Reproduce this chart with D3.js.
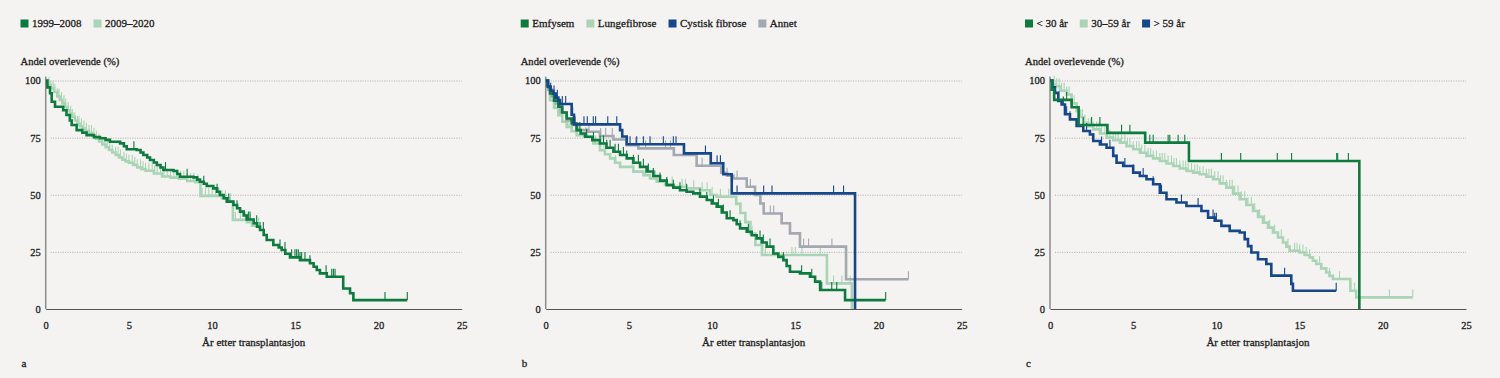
<!DOCTYPE html>
<html><head><meta charset="utf-8">
<script src="https://cdn.jsdelivr.net/npm/d3@7"></script>
<style>
body{margin:0;background:#f4f3f1;}
svg{display:block;}
text{font-family:"Liberation Serif","DejaVu Serif",serif;fill:#1e1e1e;stroke:#1e1e1e;stroke-width:0.3px;}
</style>
</head><body><svg id="chart" width="1500" height="378"></svg>
<script>
// ---------- DATA ----------
const xTicks = [0, 5, 10, 15, 20, 25];
const yTicks = [0, 25, 50, 75, 100];
const yTitle = "Andel overlevende (%)";
const xTitle = "År etter transplantasjon";
const panelLetters = ["a", "b", "c"];

const legendA = ["1999–2008", "2009–2020"];
const legendB = ["Emfysem", "Lungefibrose", "Cystisk fibrose", "Annet"];
const legendC = ["< 30 år", "30–59 år", "> 59 år"];

// Panel a — [years, survival %]
const a_1999_2008 = [[0,100],[0.1,97],[0.26,94.4],[0.36,90.7],[0.56,88.5],[1.05,87],[1.25,84.9],[1.45,82.5],[1.56,80.5],[1.86,78.3],[2.2,77.2],[2.46,76.1],[2.9,75.2],[3.26,74.7],[3.6,74],[3.86,73.2],[4.47,72.5],[4.7,71.2],[4.87,69.9],[5.47,69.6],[5.7,68.5],[5.87,67.4],[6.1,66.3],[6.27,65.2],[6.5,64.1],[6.68,63],[6.9,61.9],[7.07,60.8],[7.68,60.4],[7.9,59.1],[8.07,57.9],[8.88,57.6],[9.1,56.6],[9.27,55.7],[9.5,54.8],[9.68,53.8],[10.07,52.8],[10.3,51.3],[10.47,49.9],[10.7,48.5],[10.88,47],[11.28,45.5],[11.5,44.1],[11.68,42.6],[11.9,40.9],[12.08,39.2],[12.5,37.5],[12.7,36],[12.88,34.6],[13.1,32.4],[13.28,30.2],[13.68,28],[14.0,26.9],[14.18,25.8],[14.4,24.2],[14.68,22.6],[15.28,21.4],[15.88,20],[16.1,18.5],[16.29,17.1],[16.48,15.6],[16.89,14.1],[17.88,9.0],[18.29,6.9],[18.49,3.9],[21.73,3.9]];
const a_1999_2008_cens = [5.3,7.2,8.5,9.5,10.3,11.0,11.5,12.18,12.28,12.68,12.88,13.08,14.08,14.38,14.78,14.98,15.08,15.18,15.28,15.38,15.58,15.88,16.85,17.19,17.29,17.39,17.88,20.39,21.73];
const a_2009_2020 = [[0,100],[0.15,98],[0.3,96.5],[0.5,95],[0.7,93],[0.85,91.5],[1.0,90],[1.15,88.5],[1.3,87],[1.45,85.5],[1.6,84],[1.75,82.5],[1.9,81],[2.05,80],[2.2,79],[2.4,78],[2.6,77],[2.8,75.8],[3.0,74.5],[3.2,73.3],[3.4,72],[3.6,70.8],[3.8,69.6],[4.0,68.5],[4.2,67.4],[4.4,66.3],[4.6,65.3],[4.8,64.6],[5.0,64],[5.25,63],[5.5,62],[5.75,61.2],[6.0,60.5],[6.5,59.3],[7.0,58],[7.5,57.5],[8.0,57],[8.5,56],[9.0,55.5],[9.3,49.5],[10.6,48.5],[11.0,47],[11.25,39],[12.1,38],[12.4,36.5],[12.8,36.5]];
const a_2009_2020_cens = [0.2,0.3,0.45,0.55,0.7,0.8,0.95,1.1,1.2,1.35,1.5,1.6,1.75,1.9,2.0,2.15,2.3,2.45,2.6,2.75,2.9,3.05,3.2,3.4,3.55,3.7,3.85,4.0,4.2,4.35,4.5,4.7,4.85,5.0,5.2,5.35,5.5,5.7,5.85,6.0,6.2,6.4,6.55,6.7,6.9,7.1,7.3,7.5,7.7,7.9,8.1,8.3,8.5,8.7,8.9,9.15,9.4,9.6,9.8,10.0,10.2,10.4,10.6,10.8,11.1,11.4,11.7,12.0,12.3,12.8];

// Panel b
const b_emfysem = [[0,100],[0.1,97.5],[0.26,94.3],[0.5,91.2],[0.76,88.5],[1.0,86],[1.26,83.4],[1.56,81.2],[1.86,78.3],[2.1,76.8],[2.36,75.4],[2.8,73.9],[3.26,72.4],[3.65,70.6],[4.07,68.8],[4.47,67.4],[4.87,65.9],[5.27,64],[5.67,62.2],[6.07,60.2],[6.47,58.2],[6.87,56.2],[7.27,54.2],[7.67,53.1],[8.07,52.0],[8.47,51.3],[8.87,50.6],[9.27,49.2],[9.68,47.7],[9.98,46.2],[10.28,44.8],[10.58,42.2],[10.88,39.7],[11.28,38.9],[11.48,37.1],[11.68,35.3],[12.08,33.8],[12.38,32.3],[12.68,30.9],[12.98,29.1],[13.28,27.3],[13.68,24.3],[13.98,22.8],[14.28,21.4],[14.48,18.8],[14.68,16.3],[15.28,15.6],[15.88,14.1],[16.19,12.0],[16.49,8.3],[17.99,3.9],[20.43,3.9]];
const b_emfysem_cens = [2.06,2.46,2.87,3.27,3.47,3.67,3.87,4.17,4.37,4.67,4.87,5.27,5.57,5.87,6.17,6.47,6.87,7.27,7.67,8.07,8.47,9.27,9.68,10.08,10.38,10.68,11.08,11.68,12.18,12.88,13.08,13.48,14.28,15.38,15.99,16.59,17.19,17.49,20.43];
const b_lungefibrose = [[0,100],[0.1,96],[0.26,91.4],[0.5,88],[0.76,84.8],[1.0,82],[1.26,79.7],[1.56,77.8],[1.86,76.1],[2.46,75.4],[2.86,72.4],[3.26,69.5],[3.56,67.7],[3.87,65.9],[4.17,64],[4.47,62.2],[5.27,60.1],[5.87,58.6],[6.27,57.1],[6.67,55.7],[7.17,54.5],[7.67,53.5],[8.47,52.8],[9.27,52.0],[9.88,49.9],[10.28,49.1],[11.45,46],[11.7,42],[12.0,38],[12.3,33],[12.6,28],[13.0,23.6],[16.9,11.2],[18.4,0]];
const b_lungefibrose_cens = [0.3,0.6,1.0,1.4,1.8,2.4,3.0,3.5,4.2,5.2,6.0,6.6,7.3,7.6,8.2,8.4,8.9,9.4,9.7,10.0,10.5,11.0,12.4,13.2,14.8,15.0,15.4,16.5,17.3,17.8,18.3];
const b_cystisk = [[0,100],[0.15,97.2],[0.3,95.5],[0.46,94.3],[0.6,92.5],[0.76,91.4],[0.86,89.7],[1.56,85],[1.7,80.8],[4.47,78.3],[4.6,75.5],[4.87,72.1],[8.31,68.1],[9.92,63.8],[10.67,59],[11.18,50.6],[18.59,0]];
const b_cystisk_cens = [0.3,0.5,0.7,1.0,1.2,1.62,1.76,2.3,2.5,2.86,3.0,3.73,4.27,5.07,5.47,5.87,6.27,7.07,7.67,7.83,9.6,10.3,10.5,11.5,13.1,13.6,17.3,17.9];
const b_annet = [[0,100],[0.15,96],[0.35,93],[0.6,90],[0.9,86],[1.26,82.5],[1.6,80.5],[1.86,78.3],[2.56,77.6],[3.26,75.7],[4.07,74.2],[4.87,71.7],[5.57,70.3],[7.7,67.4],[9.07,62.7],[10.55,59.6],[10.9,58.3],[11.28,57.1],[12.08,53.5],[12.58,49.9],[12.9,46.2],[13.1,41.8],[14.18,37.5],[14.68,33.1],[15.28,27.3],[18.05,13.0],[21.8,13.0]];
const b_annet_cens = [0.4,0.7,1.0,1.3,2.0,2.6,3.3,3.6,4.0,5.4,6.0,7.2,7.5,9.4,9.9,10.9,11.5,12.3,13.5,13.7,15.5,15.8,17.2,21.8];

// Panel c
const c_under30 = [[0,100],[0.1,96],[0.25,91.5],[1.3,88.3],[1.72,80.5],[3.45,77.1],[5.72,72.8],[8.35,64.8],[18.59,0]];
const c_under30_cens = [1.0,2.0,2.5,3.0,4.3,4.8,6.0,6.2,7.1,7.2,7.7,8.1,10.3,11.46,13.66,14.52,17.23,17.29,17.93];
const c_30_59 = [[0,100],[0.15,98.5],[0.3,97.5],[0.6,95.5],[1.0,93.9],[1.3,90],[1.6,86.6],[1.8,84],[2.0,81.5],[2.3,80],[2.6,78.6],[3.0,76.8],[3.4,75],[3.8,73.9],[4.2,72.8],[4.6,71.3],[5.0,69.9],[5.4,68.4],[5.8,67],[6.2,65.9],[6.6,64.8],[7.0,63.7],[7.4,62.6],[7.8,61.5],[8.2,60.4],[8.6,59.7],[9.0,59],[9.4,57.9],[9.8,56.8],[10.2,55],[10.6,53.1],[11.0,50.5],[11.4,48],[11.8,45.5],[12.2,42.9],[12.5,40.3],[12.8,37.8],[13.1,35.6],[13.4,33.5],[13.7,31.3],[14.0,29.1],[14.2,27.3],[14.4,25.5],[15.0,24.7],[15.3,23.6],[15.6,22.6],[15.8,21.1],[16.0,19.7],[16.3,17.8],[16.6,16],[16.8,14.5],[17.0,13.1],[18.05,8],[18.4,5.1],[21.8,5.1]];
const c_30_59_cens = [0.25,0.4,0.55,0.7,0.85,1.0,1.15,1.3,1.45,1.6,1.8,1.95,2.1,2.3,2.45,2.6,2.8,2.95,3.1,3.3,3.45,3.6,3.8,3.95,4.1,4.3,4.5,4.65,4.8,5.0,5.2,5.35,5.5,5.7,5.9,6.05,6.2,6.4,6.6,6.75,6.9,7.1,7.3,7.45,7.6,7.8,8.0,8.15,8.3,8.5,8.7,8.85,9.0,9.2,9.4,9.55,9.7,9.9,10.1,10.25,10.4,10.6,10.8,10.95,11.1,11.3,11.5,11.7,11.9,12.1,12.3,12.6,12.9,13.2,13.5,13.9,14.3,14.7,14.85,15.0,15.2,15.4,15.6,16.2,16.8,17.4,18.3,20.4,21.8];
const c_over59 = [[0,100],[0.15,97],[0.3,94.6],[0.5,91],[0.7,89.5],[0.9,85.2],[1.2,83],[1.6,80.1],[2.0,77.9],[2.4,76.4],[2.6,73.5],[3.0,72],[3.4,70.6],[3.8,67],[4.0,64],[4.4,62.6],[5.0,59.7],[5.4,58.2],[5.8,56.8],[6.2,54.6],[6.6,50.9],[7.0,48],[7.6,46.6],[8.2,45.1],[9.1,42.9],[9.5,40],[9.9,38.6],[10.3,36.4],[10.8,34.2],[11.4,33.5],[11.7,30.6],[11.9,27.5],[12.1,24.7],[12.5,21.8],[13.0,19.7],[13.3,14.6],[14.5,11],[14.6,8],[17.2,8]];
const c_over59_cens = [0.5,0.8,0.9,1.0,1.2,2.2,2.6,3.1,3.6,4.0,4.5,5.0,5.6,6.2,6.7,7.9,8.9,9.8,9.9,10.0,14.1,17.2];

// ---------- STYLE / LAYOUT ----------
const COL = {dark:"#0d7a3e", light:"#a9d4b5", blue:"#17478b", grey:"#a3a8b1"};
const W = 1500, H = 378;
const yTop = 80.5, yBot = 309;
const plotW = 416;

const panels = [
  {textX:20.5, axisX:45.7, letter:panelLetters[0], legend:legendA, legendCols:[COL.dark, COL.light],
   curves:[{d:a_2009_2020, c:a_2009_2020_cens, col:COL.light},
           {d:a_1999_2008, c:a_1999_2008_cens, col:COL.dark}]},
  {textX:520.7, axisX:545.7, letter:panelLetters[1], legend:legendB, legendCols:[COL.dark, COL.light, COL.blue, COL.grey],
   curves:[{d:b_lungefibrose, c:b_lungefibrose_cens, col:COL.light},
           {d:b_annet, c:b_annet_cens, col:COL.grey},
           {d:b_emfysem, c:b_emfysem_cens, col:COL.dark},
           {d:b_cystisk, c:b_cystisk_cens, col:COL.blue}]},
  {textX:1025, axisX:1050, letter:panelLetters[2], legend:legendC, legendCols:[COL.dark, COL.light, COL.blue],
   curves:[{d:c_30_59, c:c_30_59_cens, col:COL.light},
           {d:c_over59, c:c_over59_cens, col:COL.blue},
           {d:c_under30, c:c_under30_cens, col:COL.dark}]}
];

const svg = d3.select("#chart");
svg.append("rect").attr("width", W).attr("height", H).attr("fill", "#f4f3f1");

function survAt(data, t) {
  let s = data[0][1];
  for (const p of data) { if (p[0] <= t + 1e-9) s = p[1]; else break; }
  return s;
}

panels.forEach(p => {
  const g = svg.append("g");
  const x = d3.scaleLinear().domain([0, 25]).range([p.axisX, p.axisX + plotW]);
  const y = d3.scaleLinear().domain([0, 100]).range([yBot, yTop]);

  // legend
  let lx = p.textX;
  p.legend.forEach((lab, i) => {
    g.append("rect").attr("x", lx).attr("y", 19.5).attr("width", 8).attr("height", 8).attr("fill", p.legendCols[i]);
    const t = g.append("text").attr("x", lx + 11.5).attr("y", 27.3).attr("font-size", 11).text(lab);
    lx += 11.5 + t.node().getComputedTextLength() + 12;
  });

  // y title
  g.append("text").attr("x", p.textX).attr("y", 64.5).attr("font-size", 10.6).text(yTitle);

  // gridlines
  g.selectAll(".grid").data(yTicks.filter(v => v > 0)).join("line")
    .attr("x1", p.axisX + 5).attr("x2", p.axisX + plotW)
    .attr("y1", d => y(d) + 0.5).attr("y2", d => y(d) + 0.5)
    .attr("stroke", "#9a9a9a").attr("stroke-width", 0.8).attr("stroke-dasharray", "1,1.4");

  // y axis (labels only + grey line)
  const yAxis = d3.axisLeft(y).tickValues(yTicks).tickSize(0).tickPadding(5);
  const ya = g.append("g").attr("transform", `translate(${p.axisX},0)`).call(yAxis);
  ya.select(".domain").remove();
  ya.selectAll("text").attr("font-family", "Liberation Serif").attr("font-size", 10.5).attr("fill", "#1e1e1e");
  g.append("line").attr("x1", p.axisX).attr("x2", p.axisX).attr("y1", yTop - 4).attr("y2", yBot)
    .attr("stroke", "#8c8c8c").attr("stroke-width", 1.5);

  // x axis
  const xAxis = d3.axisBottom(x).tickValues(xTicks).tickSize(0).tickPadding(13).tickFormat(d3.format("d"));
  const xa = g.append("g").attr("transform", `translate(0,${yBot})`).call(xAxis);
  xa.select(".domain").attr("stroke", "#555").attr("stroke-width", 1);
  xa.selectAll("text").attr("font-family", "Liberation Serif").attr("font-size", 10.5).attr("fill", "#1e1e1e");

  g.append("text").attr("x", (x(0) + x(25)) / 2).attr("y", 345.5).attr("text-anchor", "middle")
    .attr("font-size", 11).text(xTitle);
  g.append("text").attr("x", p.textX + 1).attr("y", 366.5).attr("font-size", 11).text(p.letter);

  // curves
  const line = d3.line().x(d => x(d[0])).y(d => y(d[1])).curve(d3.curveStepAfter);
  p.curves.forEach(cv => {
    g.append("path").datum(cv.d).attr("d", line).attr("fill", "none")
      .attr("stroke", cv.col).attr("stroke-width", 2.6).attr("stroke-linejoin", "miter");
    g.selectAll(null).data(cv.c).join("line")
      .attr("x1", t => x(t)).attr("x2", t => x(t))
      .attr("y1", t => y(survAt(cv.d, t))).attr("y2", t => y(survAt(cv.d, t)) - 8)
      .attr("stroke", cv.col).attr("stroke-width", 1.1);
  });
});
</script></body></html>
